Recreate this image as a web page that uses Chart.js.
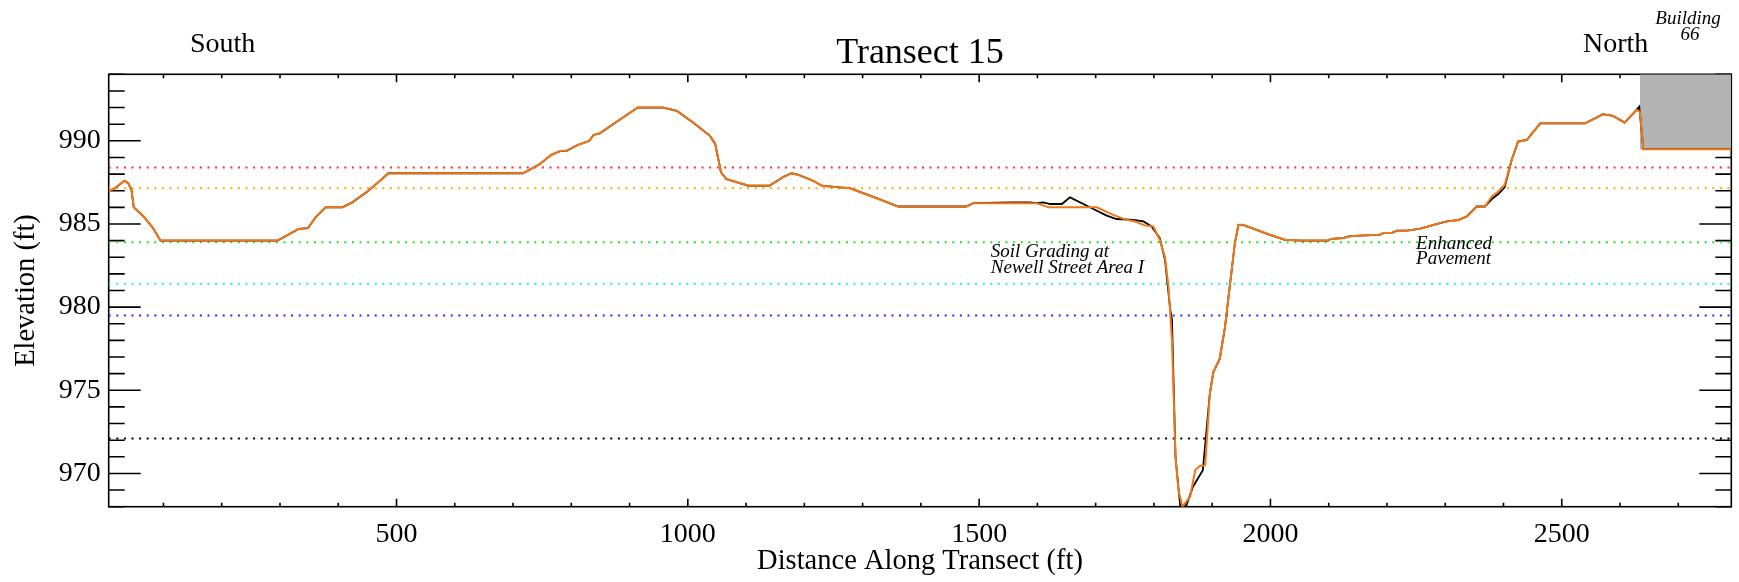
<!DOCTYPE html>
<html>
<head>
<meta charset="utf-8">
<title>Transect 15</title>
<script src="https://cdn.jsdelivr.net/npm/chart.js@4.4.1/dist/chart.umd.min.js"></script>
<style>
  html, body { margin: 0; padding: 0; background: #fff; }
  #wrap { width: 1739px; height: 582px; position: relative; }
</style>
</head>
<body>
<div id="wrap"><canvas id="profile"></canvas></div>
<script>
// Final grade along the transect: distance (ft) / elevation (ft)
const finalDist = [
  6, 16.5, 33, 39.5, 45, 49, 66, 82, 95, 296, 332, 348, 361, 378, 407, 424, 450, 470, 486,
  717, 733, 746, 765, 782, 792, 811, 831, 838, 849, 876, 914, 958, 981, 1009, 1038, 1047,
  1057, 1066, 1104, 1140, 1165, 1178, 1190, 1215, 1230, 1260, 1278, 1301, 1324, 1361, 1478,
  1490, 1599, 1619, 1702, 1730, 1753, 1768, 1785, 1799, 1810, 1819, 1825, 1831, 1837, 1842,
  1849, 1862, 1871, 1879, 1888, 1896, 1902, 1913, 1922, 1930, 1939, 1945, 1953, 1976, 1999,
  2025, 2051, 2099, 2104, 2125, 2134, 2154, 2187, 2194, 2208, 2217, 2234, 2257, 2271, 2291,
  2305, 2322, 2337, 2354, 2368, 2380, 2391, 2402, 2414, 2425, 2440, 2463, 2540, 2571, 2588,
  2608, 2628, 2634, 2640, 2791
];
const finalElev = [
  986.95, 987.15, 987.6, 987.45, 987.05, 986.0, 985.45, 984.75, 984.0, 984.0, 984.7, 984.75,
  985.4, 986.0, 986.0, 986.3, 986.95, 987.55, 988.05, 988.05, 988.35, 988.6, 989.15, 989.4,
  989.4, 989.75, 990.0, 990.35, 990.45, 991.1, 992.0, 992.0, 991.8, 991.1, 990.3, 989.8,
  988.1, 987.7, 987.3, 987.3, 987.85, 988.05, 987.95, 987.6, 987.3, 987.2, 987.15, 986.85,
  986.55, 986.05, 986.05, 986.25, 986.25, 986.0, 986.0, 985.55, 985.25, 985.15, 984.9,
  984.85, 984.05, 983.0, 981.2, 978.0, 971.0, 969.0, 968.0, 968.6, 970.2, 970.45, 970.5,
  974.8, 976.1, 976.9, 978.8, 981.2, 983.85, 984.95, 984.95, 984.65, 984.35, 984.05, 984.0,
  984.0, 984.1, 984.15, 984.25, 984.3, 984.35, 984.45, 984.45, 984.6, 984.6, 984.72, 984.85,
  985.05, 985.17, 985.23, 985.45, 986.05, 986.05, 986.65, 986.95, 987.35, 988.85, 989.95,
  990.05, 991.05, 991.05, 991.6, 991.5, 991.1, 991.85, 991.75, 989.5, 989.5
];

// Existing ground surface
const existingDist = [
  6, 16.5, 33, 39.5, 45, 49, 66, 82, 95, 296, 332, 348, 361, 378, 407, 424, 450, 470, 486,
  717, 733, 746, 765, 782, 792, 811, 831, 838, 849, 876, 914, 958, 981, 1009, 1038, 1047,
  1057, 1066, 1104, 1140, 1165, 1178, 1190, 1215, 1230, 1260, 1278, 1301, 1324, 1361, 1478,
  1490, 1556, 1587, 1599, 1610, 1622, 1642, 1656, 1679, 1696, 1719, 1736, 1765, 1782, 1796,
  1810, 1819, 1828, 1831, 1837, 1845, 1856, 1867, 1884, 1896, 1902, 1913, 1922, 1930, 1939,
  1945, 1953, 1976, 1999, 2025, 2051, 2099, 2104, 2125, 2134, 2154, 2187, 2194, 2208, 2217,
  2234, 2257, 2271, 2291, 2305, 2322, 2337, 2354, 2368, 2380, 2391, 2402, 2414, 2425, 2440,
  2463, 2540, 2571, 2588, 2608, 2628, 2633, 2640, 2791
];
const existingElev = [
  986.95, 987.15, 987.6, 987.45, 987.05, 986.0, 985.45, 984.75, 984.0, 984.0, 984.7, 984.75,
  985.4, 986.0, 986.0, 986.3, 986.95, 987.55, 988.05, 988.05, 988.35, 988.6, 989.15, 989.4,
  989.4, 989.75, 990.0, 990.35, 990.45, 991.1, 992.0, 992.0, 991.8, 991.1, 990.3, 989.8,
  988.1, 987.7, 987.3, 987.3, 987.85, 988.05, 987.95, 987.6, 987.3, 987.2, 987.15, 986.85,
  986.55, 986.05, 986.05, 986.25, 986.3, 986.3, 986.25, 986.3, 986.2, 986.2, 986.6, 986.2,
  985.9, 985.5, 985.3, 985.25, 985.15, 984.85, 984.15, 982.85, 979.85, 979.25, 971.0, 968.1,
  968.1, 969.2, 970.2, 974.8, 976.1, 976.9, 978.8, 981.2, 983.85, 984.95, 984.95, 984.65,
  984.35, 984.05, 984.0, 984.0, 984.1, 984.15, 984.25, 984.3, 984.35, 984.45, 984.45, 984.6,
  984.6, 984.72, 984.85, 985.05, 985.17, 985.23, 985.45, 986.05, 986.05, 986.5, 986.8, 987.2,
  988.85, 989.95, 990.05, 991.05, 991.05, 991.6, 991.5, 991.1, 991.85, 992.05, 989.5, 989.5
];

// Horizontal reference elevations (ft), drawn dotted
const refLevels = [988.4, 987.15, 983.9, 981.4, 979.5, 972.1];
const refColors = ['#ff2a2a', '#ffaa00', '#22e622', '#22e6f0', '#2a2aff', '#000000'];

// Building 66 footprint at the north end
const buildingX = [2634, 2791];
const buildingElev = [989.5, 994];

// Axis ranges and tick marks
const xRange = [6, 2791];
const yRange = [968, 994];
const xMajor = [500, 1000, 1500, 2000, 2500];
const yMajor = [970, 975, 980, 985, 990];
const xMinorStep = 100;
const yMinorStep = 1;

const SERIF = "'Liberation Serif', 'Times New Roman', serif";

function pts(xs, ys) {
  return xs.map((x, i) => ({ x: x, y: ys[i] }));
}

// Frame with inward ticks on all four sides, drawn under the data
const frameTicks = {
  id: 'frameTicks',
  beforeDatasetsDraw(chart) {
    const { ctx, chartArea: a, scales: { x, y } } = chart;
    ctx.save();
    ctx.strokeStyle = '#000';
    ctx.lineWidth = 1.6;
    ctx.beginPath();
    for (let v = Math.ceil(xRange[0] / xMinorStep) * xMinorStep; v <= xRange[1]; v += xMinorStep) {
      const px = x.getPixelForValue(v);
      const len = xMajor.includes(v) ? 8 : 4;
      ctx.moveTo(px, a.bottom); ctx.lineTo(px, a.bottom - len);
      ctx.moveTo(px, a.top); ctx.lineTo(px, a.top + len);
    }
    for (let v = yRange[0]; v <= yRange[1]; v += yMinorStep) {
      const py = y.getPixelForValue(v);
      const len = yMajor.includes(v) ? 32 : 16;
      ctx.moveTo(a.left, py); ctx.lineTo(a.left + len, py);
      ctx.moveTo(a.right, py); ctx.lineTo(a.right - len, py);
    }
    ctx.stroke();
    ctx.strokeRect(a.left, a.top, a.right - a.left, a.bottom - a.top);
    ctx.restore();
  }
};

// Titles and labels
const labels = {
  id: 'labels',
  afterDraw(chart) {
    const { ctx, chartArea: a, scales: { x, y } } = chart;
    ctx.save();
    ctx.fillStyle = '#000';
    ctx.textBaseline = 'alphabetic';

    ctx.font = '36px ' + SERIF;
    ctx.textAlign = 'center';
    ctx.fillText('Transect 15', (a.left + a.right) / 2, 63);

    ctx.font = '28px ' + SERIF;
    ctx.textAlign = 'left';
    ctx.fillText('South', 190, 52);
    ctx.fillText('North', 1583, 52);

    ctx.font = 'italic 19px ' + SERIF;
    ctx.textAlign = 'center';
    ctx.fillText('Building', 1688, 24);
    ctx.fillText('66', 1690, 40);

    ctx.textAlign = 'left';
    ctx.fillText('Soil Grading at', x.getPixelForValue(1520), y.getPixelForValue(983.0));
    ctx.fillText('Newell Street Area I', x.getPixelForValue(1520), y.getPixelForValue(982.08));
    ctx.fillText('Enhanced', x.getPixelForValue(2250), y.getPixelForValue(983.49));
    ctx.fillText('Pavement', x.getPixelForValue(2250), y.getPixelForValue(982.6));
    ctx.restore();
  }
};

const datasets = [
  {
    data: pts(finalDist, finalElev),
    borderColor: '#f07818',
    borderWidth: 2,
    order: 0
  },
  {
    data: pts(existingDist, existingElev),
    borderColor: '#000000',
    borderWidth: 1.8,
    order: 1
  }
];
refLevels.forEach((lvl, i) => {
  datasets.push({
    data: pts(xRange, [lvl, lvl]),
    borderColor: refColors[i],
    borderWidth: 2,
    borderDash: [2, 5.6],
    borderCapStyle: 'butt',
    order: 2
  });
});
datasets.push({
  data: pts(buildingX, [buildingElev[1], buildingElev[1]]),
  borderColor: 'rgba(0,0,0,0)',
  borderWidth: 0,
  backgroundColor: '#b3b3b3',
  fill: { value: buildingElev[0] },
  order: 3
});

new Chart(document.getElementById('profile'), {
  type: 'line',
  data: { datasets: datasets },
  options: {
    responsive: true,
    maintainAspectRatio: false,
    animation: false,
    elements: {
      point: { radius: 0 },
      line: { tension: 0, fill: false }
    },
    layout: { padding: { left: 0, top: 74.3, right: 7.7, bottom: 0 } },
    plugins: {
      legend: { display: false },
      tooltip: { enabled: false }
    },
    scales: {
      x: {
        type: 'linear',
        min: xRange[0],
        max: xRange[1],
        afterBuildTicks: s => { s.ticks = xMajor.map(v => ({ value: v })); },
        afterFit: s => { s.height = 75.3; },
        grid: { display: false, drawTicks: false },
        border: { display: false },
        ticks: {
          font: { family: SERIF, size: 28 },
          color: '#000',
          padding: 11,
          maxRotation: 0,
          autoSkip: false,
          callback: v => String(v)
        },
        title: {
          display: true,
          text: 'Distance Along Transect (ft)',
          font: { family: SERIF, size: 28.5 },
          color: '#000',
          padding: { top: 0, bottom: 3 }
        }
      },
      y: {
        type: 'linear',
        min: yRange[0],
        max: yRange[1],
        afterBuildTicks: s => { s.ticks = yMajor.map(v => ({ value: v })); },
        afterFit: s => { s.width = 108.7; },
        grid: { display: false, drawTicks: false },
        border: { display: false },
        ticks: {
          font: { family: SERIF, size: 28 },
          color: '#000',
          padding: 8,
          autoSkip: false,
          callback: v => String(v)
        },
        title: {
          display: true,
          text: 'Elevation (ft)',
          font: { family: SERIF, size: 28.5 },
          color: '#000',
          padding: { top: 9, bottom: 0 }
        }
      }
    }
  },
  plugins: [frameTicks, labels]
});
</script>
</body>
</html>
